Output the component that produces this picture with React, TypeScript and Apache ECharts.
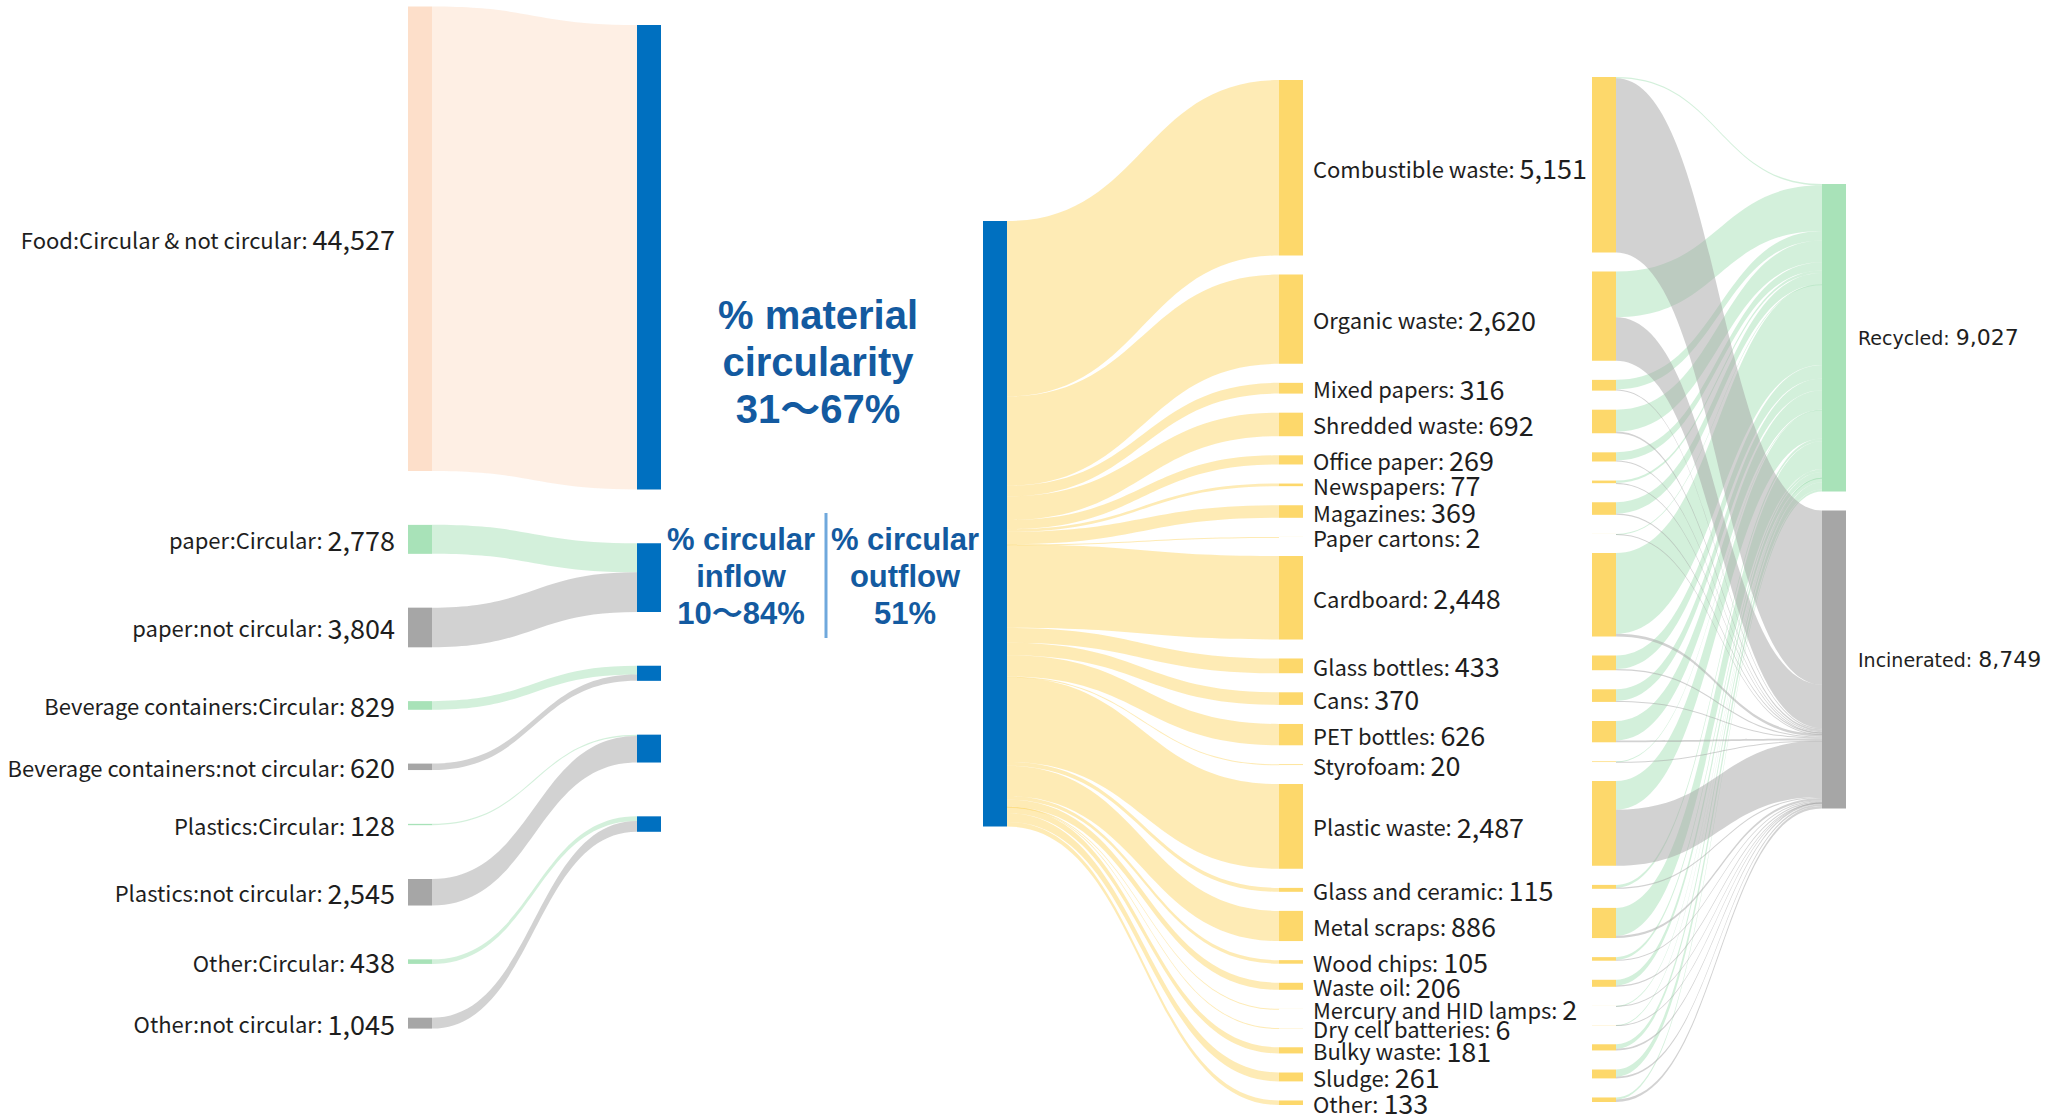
import React, { useEffect, useRef } from "react";
import * as echarts from "echarts";

// ---------------- data ----------------
const inflowNames = [
  "Food:Circular & not circular",
  "paper:Circular",
  "paper:not circular",
  "Beverage containers:Circular",
  "Beverage containers:not circular",
  "Plastics:Circular",
  "Plastics:not circular",
  "Other:Circular",
  "Other:not circular",
];
const inflowValues = [44527, 2778, 3804, 829, 620, 128, 2545, 438, 1045];
const inflowKinds = ["food", "circular", "not", "circular", "not", "circular", "not", "circular", "not"];
const inflowGroupIndex = [0, 1, 1, 2, 2, 3, 3, 4, 4];
const inflowGroupNames = ["Food", "Paper", "Beverage containers", "Plastics", "Other"];

const totalName = "Total waste";
const wasteNames = [
  "Combustible waste",
  "Organic waste",
  "Mixed papers",
  "Shredded waste",
  "Office paper",
  "Newspapers",
  "Magazines",
  "Paper cartons",
  "Cardboard",
  "Glass bottles",
  "Cans",
  "PET bottles",
  "Styrofoam",
  "Plastic waste",
  "Glass and ceramic",
  "Metal scraps",
  "Wood chips",
  "Waste oil",
  "Mercury and HID lamps",
  "Dry cell batteries",
  "Bulky waste",
  "Sludge",
  "Other",
];
const wasteValues = [5151, 2620, 316, 692, 269, 77, 369, 2, 2448, 433, 370, 626, 20, 2487, 115, 886, 105, 206, 2, 6, 181, 261, 133];
const recycledValues = [40, 1340, 280, 640, 240, 70, 330, 1, 2372, 400, 340, 570, 10, 840, 80, 820, 80, 170, 1, 3, 130, 210, 60];
const incineratedValues = [5112, 1280, 36, 52, 29, 7, 39, 1, 76, 33, 30, 56, 10, 1647, 35, 66, 25, 36, 1, 3, 51, 51, 73];
const outcomeNames = ["Recycled", "Incinerated"];

const noteMaterial = "% material\ncircularity\n31～67%";
const noteInflow = "% circular\ninflow\n10～84%";
const noteOutflow = "% circular\noutflow\n51%";

// ---------------- styles / layout ----------------
const BLUE = "#0070c0";
const YELLOW = "#fdd86b";
const GREEN = "#a8e2b8";
const GREY = "#a6a6a6";
const PEACH = "#fddfca";
const NOTE_COLOR = "#135aa0";
const kindColor: Record<string, string> = { food: PEACH, circular: GREEN, not: GREY };

const FONT_LABEL = '"Noto Sans CJK JP", "Noto Sans", sans-serif';
const FONT_RIGHT = '"DejaVu Sans", sans-serif';
const FONT_NOTE = '"Liberation Sans", Arial, "Noto Sans CJK JP", sans-serif';

const LP = { left: 408, top: 6.6, width: 253, height: 1022, gap: 53.8, nodeWidth: 24, targetOffset: 18.4 };
const MP = { left: 983, top: 80, width: 320, height: 1025, gap: 19.07, nodeWidth: 24, sourceOffset: 141 };
const RP = { left: 1592, top: 77, width: 254, height: 1025, gap: 19.07, nodeWidth: 24, targetOffset: 107 };

const sum = (a: number[]) => a.reduce((s, v) => s + v, 0);
const fmt = (v: number) => Math.round(v).toLocaleString("en-US");

function stackLocalY(values: number[], ky: number, gap: number, offset: number, height: number) {
  let acc = offset;
  return values.map((v) => {
    const y = acc;
    acc += v * ky + gap;
    return y / height;
  });
}

function makeLabel(position: string, nameSize: number, valueSize: number, family: string, distance: number) {
  return {
    show: true,
    position,
    distance,
    color: "#1e1e1e",
    fontFamily: family,
    fontSize: nameSize,
    formatter: (p: any) => `{n|${p.name}:} {v|${fmt(p.value)}}`,
    rich: {
      n: { fontSize: nameSize, fontFamily: family, color: "#1e1e1e" },
      v: { fontSize: valueSize, fontFamily: family, color: "#1e1e1e" },
    },
  };
}

function buildOption() {
  // ----- left panel: inflows -----
  const inflowTotal = sum(inflowValues);
  const leftKy = (LP.height - (inflowValues.length - 1) * LP.gap) / inflowTotal;
  const groupTotals = inflowGroupNames.map((_, g) =>
    sum(inflowValues.filter((_, i) => inflowGroupIndex[i] === g))
  );
  const groupY = stackLocalY(groupTotals, leftKy, LP.gap, LP.targetOffset, LP.height);
  const leftNodes = [
    ...inflowNames.map((name, i) => ({
      name,
      value: inflowValues[i],
      itemStyle: { color: kindColor[inflowKinds[i]] },
    })),
    ...inflowGroupNames.map((name, g) => ({
      name: name + " inflow",
      value: groupTotals[g],
      localY: groupY[g],
      itemStyle: { color: BLUE },
      label: { show: false },
    })),
  ];
  const leftLinks = inflowNames.map((name, i) => ({
    source: name,
    target: inflowGroupNames[inflowGroupIndex[i]] + " inflow",
    value: inflowValues[i],
  }));

  // ----- middle panel: waste types -----
  const wasteTotal = sum(wasteValues);
  const midNodes = [
    {
      name: totalName,
      value: wasteTotal,
      localY: MP.sourceOffset / MP.height,
      itemStyle: { color: BLUE },
      label: { show: false },
    },
    ...wasteNames.map((name, i) => ({ name, value: wasteValues[i], itemStyle: { color: YELLOW } })),
  ];
  const midLinks = wasteNames.map((name, i) => ({ source: totalName, target: name, value: wasteValues[i] }));

  // ----- right panel: treatment -----
  const rightSums = wasteNames.map((_, i) => recycledValues[i] + incineratedValues[i]);
  const rightTotal = sum(rightSums);
  const rightKy = (RP.height - (wasteNames.length - 1) * RP.gap) / rightTotal;
  const outcomeTotals = [sum(recycledValues), sum(incineratedValues)];
  const outcomeY = stackLocalY(outcomeTotals, rightKy, RP.gap, RP.targetOffset, RP.height);
  const rightNodes = [
    ...wasteNames.map((name, i) => ({
      name,
      value: rightSums[i],
      itemStyle: { color: YELLOW },
      label: { show: false },
    })),
    ...outcomeNames.map((name, k) => ({
      name,
      value: outcomeTotals[k],
      localY: outcomeY[k],
      itemStyle: { color: k === 0 ? GREEN : GREY },
    })),
  ];
  const rightLinks = [
    ...wasteNames.map((name, i) => ({ source: name, target: outcomeNames[0], value: recycledValues[i] })),
    ...wasteNames.map((name, i) => ({ source: name, target: outcomeNames[1], value: incineratedValues[i] })),
  ];

  const common = {
    type: "sankey",
    layoutIterations: 0,
    draggable: false,
    silent: true,
    emphasis: { disabled: true },
    nodeAlign: "justify",
  };

  return {
    animation: false,
    backgroundColor: "#ffffff",
    series: [
      {
        ...common,
        left: LP.left,
        top: LP.top,
        width: LP.width,
        height: LP.height,
        nodeWidth: LP.nodeWidth,
        nodeGap: LP.gap,
        label: makeLabel("left", 22, 27, FONT_LABEL, 13),
        lineStyle: { color: "source", opacity: 0.5, curveness: 0.5 },
        data: leftNodes,
        links: leftLinks,
      },
      {
        ...common,
        left: MP.left,
        top: MP.top,
        width: MP.width,
        height: MP.height,
        nodeWidth: MP.nodeWidth,
        nodeGap: MP.gap,
        label: makeLabel("right", 22, 27, FONT_LABEL, 10),
        lineStyle: { color: "target", opacity: 0.5, curveness: 0.5 },
        data: midNodes,
        links: midLinks,
      },
      {
        ...common,
        left: RP.left,
        top: RP.top,
        width: RP.width,
        height: RP.height,
        nodeWidth: RP.nodeWidth,
        nodeGap: RP.gap,
        label: makeLabel("right", 19, 22, FONT_RIGHT, 12),
        lineStyle: { color: "target", opacity: 0.5, curveness: 0.5 },
        data: rightNodes,
        links: rightLinks,
      },
    ],
    graphic: [
      {
        type: "text",
        x: 818,
        y: 362,
        silent: true,
        style: {
          text: noteMaterial,
          fontFamily: FONT_NOTE,
          fontSize: 40,
          fontWeight: "bold",
          lineHeight: 47,
          fill: NOTE_COLOR,
          align: "center",
          verticalAlign: "middle",
        },
      },
      {
        type: "text",
        x: 741,
        y: 576,
        silent: true,
        style: {
          text: noteInflow,
          fontFamily: FONT_NOTE,
          fontSize: 31,
          fontWeight: "bold",
          lineHeight: 37,
          fill: NOTE_COLOR,
          align: "center",
          verticalAlign: "middle",
        },
      },
      {
        type: "text",
        x: 905,
        y: 576,
        silent: true,
        style: {
          text: noteOutflow,
          fontFamily: FONT_NOTE,
          fontSize: 31,
          fontWeight: "bold",
          lineHeight: 37,
          fill: NOTE_COLOR,
          align: "center",
          verticalAlign: "middle",
        },
      },
      {
        type: "line",
        silent: true,
        shape: { x1: 826, y1: 513, x2: 826, y2: 638 },
        style: { stroke: "#6fa8dc", lineWidth: 3 },
      },
    ],
  };
}

export default function App() {
  const ref = useRef<HTMLDivElement>(null);
  useEffect(() => {
    document.body.style.margin = "0";
    if (!ref.current) return;
    const chart = echarts.init(ref.current, undefined, { renderer: "svg" });
    chart.setOption(buildOption() as any);
    return () => chart.dispose();
  }, []);
  return <div ref={ref} style={{ width: 2063, height: 1119, background: "#fff" }} />;
}
